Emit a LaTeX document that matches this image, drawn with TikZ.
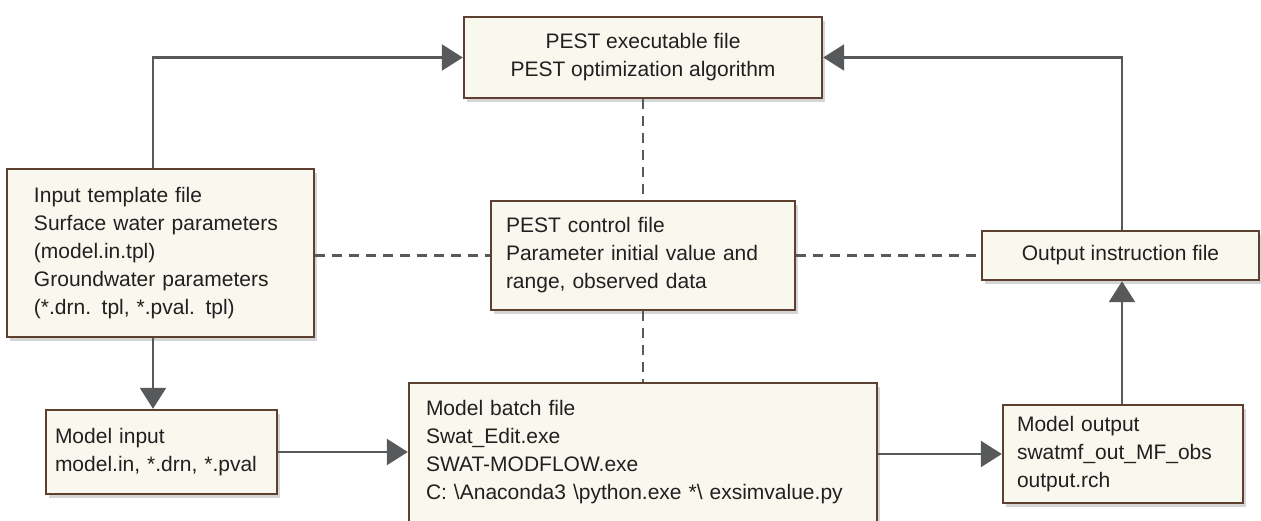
\documentclass[tikz,border=0pt]{standalone}
\usepackage{fontspec}
\setmainfont{Liberation Sans}
\usetikzlibrary{arrows.meta,shadows,calc}
\definecolor{boxfill}{HTML}{F9F8EE}
\definecolor{boxline}{HTML}{5E4030}
\definecolor{conn}{HTML}{58595B}
\definecolor{txt}{HTML}{231F20}
\begin{document}
\begin{tikzpicture}[x=1pt,y=-1pt,
  box/.style={draw=boxline,line width=2.4pt,fill=boxfill,rectangle,
    font=\fontsize{21}{28}\selectfont,text=txt,inner ysep=0pt,
    drop shadow={shadow xshift=3pt,shadow yshift=-4pt,opacity=0.3,fill=black!55}},
  arr/.style={draw=conn,line width=2.4pt,-{Triangle[length=21pt,width=26pt]}},
  dsh/.style={draw=conn,line width=2.2pt,dash pattern=on 10pt off 7pt}]
\useasboundingbox (0,0) rectangle (1261,521);
\clip (0,0) rectangle (1261,521);
\node[box,minimum width=358pt,minimum height=81pt,align=center] (exe) at (643,57.5)
  {PEST executable file\\PEST optimization algorithm};
\node[box,minimum width=307pt,minimum height=168pt,inner xsep=27pt,text width=253pt,align=left] (tpl) at (160.5,253)
  {Input template file\\Surface water parameters\\(model.in.tpl)\\Groundwater parameters\\(*.drn. tpl, *.pval. tpl)};
\node[box,minimum width=304pt,minimum height=109pt,inner xsep=15pt,text width=274pt,align=left] (ctl) at (643,255.5)
  {PEST control file\\Parameter initial value and\\range, observed data};
\node[box,minimum width=277pt,minimum height=49pt,align=center] (oif) at (1120.5,255.5)
  {Output instruction file};
\node[box,minimum width=231pt,minimum height=84pt,inner xsep=9pt,text width=213pt,align=left] (min) at (161.5,452)
  {Model input\\model.in, *.drn, *.pval\\[0pt]};
\node[box,minimum width=468pt,minimum height=150pt,inner xsep=17pt,text width=434pt,align=left,anchor=north] (bat) at (643,382)
  {\rule{0pt}{8pt}\\[-33pt]Model batch file\\Swat\_Edit.exe\\SWAT-MODFLOW.exe\\C: \textbackslash Anaconda3 \textbackslash python.exe *\textbackslash{} exsimvalue.py\\[19pt]};
\node[box,minimum width=240pt,minimum height=98pt,inner xsep=14pt,text width=212pt,align=left] (mo) at (1123,454)
  {Model output\\swatmf\_out\_MF\_obs\\output.rch};
\coordinate (lx) at (153,0);
\coordinate (rx) at (1122,0);
\draw[arr] (tpl.north -| lx) |- (exe.west);
\draw[arr] (oif.north -| rx) |- (exe.east);
\draw[arr] (tpl.south -| lx) -- (min.north -| lx);
\draw[arr] (mo.north -| rx) -- (oif.south -| rx);
\draw[arr] (min.east) -- (min.east -| bat.west);
\draw[arr] (mo.west -| bat.east) -- (mo.west);
\draw[dsh] (exe.south) -- (ctl.north);
\draw[dsh] (ctl.south) -- (bat.north);
\draw[dsh] (tpl.east |- ctl.west) -- (ctl.west);
\draw[dsh] (ctl.east) -- (oif.west);
\end{tikzpicture}
\end{document}
